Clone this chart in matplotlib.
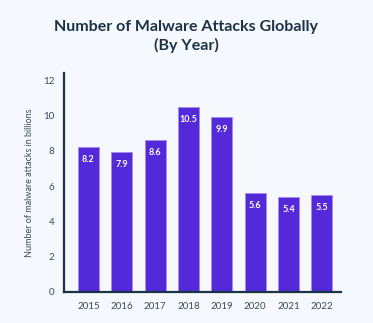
import matplotlib
matplotlib.use("Agg")
import matplotlib.pyplot as plt

years = ["2015", "2016", "2017", "2018", "2019", "2020", "2021", "2022"]
attacks = [8.2, 7.9, 8.6, 10.5, 9.9, 5.6, 5.4, 5.5]
yticks = [0, 2, 4, 6, 8, 10, 12]

bg = "#F5F9FD"
navy = "#1C3347"
fig = plt.figure(figsize=(3.73, 3.23), dpi=100, facecolor=bg)
ax = fig.add_axes([0.1716, 0.096, 0.7424, 0.678], facecolor=bg)

x = list(range(len(years)))
bars = ax.bar(x, attacks, width=0.63, color="#5429D9", edgecolor="#A58CF0", linewidth=0.6, zorder=2)
for xi, v in zip(x, attacks):
    ax.text(xi, v - 0.45, f"{v}", ha="center", va="top", color="white",
            fontsize=6.5, fontweight="bold", family="Lato")

ax.set_xlim(-0.73, 7.57)
ax.set_ylim(0, 12.4)
ax.set_xticks(x)
ax.set_xticklabels(years)
ax.set_yticks(yticks)
ax.tick_params(axis="both", length=0, labelsize=7, colors="#3B4A5A", pad=7)
for lab in ax.get_xticklabels() + ax.get_yticklabels():
    lab.set_family("Lato")
ax.set_ylabel("Number of malware attacks in billions", fontsize=6.5, color="#3B4A5A", family="Lato", labelpad=6)
for s in ["top", "right"]:
    ax.spines[s].set_visible(False)
for s in ["left", "bottom"]:
    ax.spines[s].set_color(navy)
    ax.spines[s].set_linewidth(1.6)

fig.text(0.5, 0.886, "Number of Malware Attacks Globally\n(By Year)", ha="center", va="center",
         fontsize=11.5, fontweight="bold", color=navy, family="Lato", linespacing=1.3)

fig.savefig("out.png", dpi=100, facecolor=bg)
